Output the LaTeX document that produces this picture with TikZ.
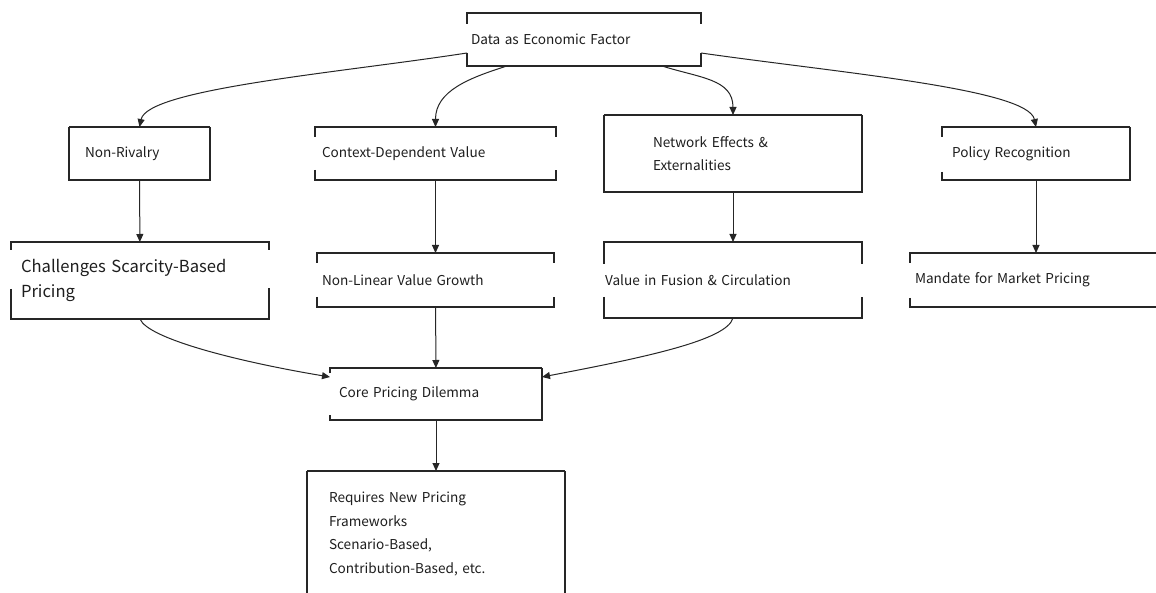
\documentclass[tikz,border=0pt]{standalone}
\usepackage{fontspec}
\setmainfont{Noto Sans CJK SC}
\usetikzlibrary{arrows.meta,calc}
\definecolor{ink}{HTML}{262626}
\definecolor{txt}{HTML}{1E1E1E}
\newcommand\gapbox[5]{%
  \draw[boxline] ($(#1.north west)+(0,-#2)$) -- (#1.north west) -- (#1.north east) -- ($(#1.north east)+(0,-#4)$);
  \draw[boxline] ($(#1.north west)+(0,-#3)$) -- (#1.south west) -- (#1.south east) -- ($(#1.north east)+(0,-#5)$);
}
\begin{document}
\begin{tikzpicture}[x=1pt,y=1pt,
  box/.style={rectangle, draw=none, outer sep=0pt, inner ysep=0pt, align=left, text=txt,
    font=\fontsize{13.6}{23.5}\selectfont},
  boxline/.style={draw=ink, line width=2pt, line join=miter},
  conn/.style={draw=ink, line width=1pt, -{Triangle[length=8pt,width=7pt]}}]
\useasboundingbox (0,0) rectangle (1156,-593);
\clip (0,0) rectangle (1156,-593);
\fill[white] (0,0) rectangle (1156,-593);

\node[box, minimum width=234pt, minimum height=53pt, inner xsep=4pt, text width=226pt] (data) at (584,-39.5) {Data as Economic Factor};

\node[box, minimum width=141pt, minimum height=53pt, inner xsep=16pt, text width=109pt] (nr) at (139.5,-153.5) {Non-Rivalry};
\node[box, minimum width=241pt, minimum height=53pt, inner xsep=7pt, text width=227pt] (ctx) at (435.5,-153.5) {Context-Dependent Value};
\node[box, minimum width=258pt, minimum height=77pt, inner xsep=49pt, text width=160pt] (net) at (733,-153.5) {Network Effects \&\\Externalities};
\node[box, minimum width=188pt, minimum height=53pt, inner xsep=10pt, text width=168pt] (pol) at (1036,-153.5) {Policy Recognition};

\node[box, minimum width=258pt, minimum height=77pt, inner xsep=10pt, text width=238pt,
  font=\fontsize{16.6}{25}\selectfont] (chal) at (140,-280.5) {Challenges Scarcity-Based\\Pricing};
\node[box, minimum width=237pt, minimum height=54pt, inner xsep=5pt, text width=227pt] (nl) at (435.5,-280) {Non-Linear Value Growth};
\node[box, minimum width=258pt, minimum height=76pt, inner xsep=1pt, text width=256pt] (val) at (733,-280) {Value in Fusion \& Circulation};
\node[box, minimum width=252pt, minimum height=54pt, inner xsep=5pt, text width=242pt] (man) at (1036,-280) {Mandate for Market Pricing};

\node[box, minimum width=212pt, minimum height=52pt, inner xsep=9pt, text width=194pt] (core) at (436,-394) {Core Pricing Dilemma};
\node[box, minimum width=258pt, minimum height=126pt, inner xsep=22pt, text width=214pt] (req) at (436,-534) {Requires New Pricing\\Frameworks\\Scenario-Based,\\Contribution-Based, etc.};

\gapbox{data}{11}{40}{11}{40}
\gapbox{nr}{0}{0}{0}{0}
\gapbox{ctx}{10}{43}{10}{43}
\gapbox{net}{0}{0}{0}{0}
\gapbox{pol}{10}{45}{0}{0}
\gapbox{chal}{8}{47}{8}{46}
\gapbox{nl}{10}{44}{10}{44}
\gapbox{val}{22}{55}{22}{55}
\gapbox{man}{10}{45}{0}{0}
\gapbox{core}{5}{47}{0}{0}
\gapbox{req}{0}{0}{0}{0}

\coordinate (dl) at ($(data.south west)+(0,13)$);
\coordinate (dr) at ($(data.south east)+(0,13)$);
\coordinate (dbl) at ($(data.south west)+(40,0)$);
\coordinate (dbr) at ($(data.south east)+(-39,0)$);
\coordinate (cl) at ($(core.north west)+(0,-9)$);
\coordinate (cr) at ($(core.north east)+(0,-9)$);

\draw[conn] (dl) .. controls ($(dl)+(-130,-20)$) and ($(nr.north)+(8,38)$) .. (nr.north);
\draw[conn] (dbl) .. controls ($(dbl)+(-38,-12)$) and ($(ctx.north)+(0,36)$) .. (ctx.north);
\draw[conn] (dbr) .. controls ($(dbr)+(38,-12)$) and ($(net.north)+(0,36)$) .. (net.north);
\draw[conn] (dr) .. controls ($(dr)+(140,-20)$) and ($(pol.north)+(-8,38)$) .. (pol.north);
\draw[conn] (nr) -- (chal);
\draw[conn] (ctx) -- (nl);
\draw[conn] (net) -- (val);
\draw[conn] (pol) -- (man);
\draw[conn] (chal.south) .. controls ($(chal.south)+(8,-20)$) and ($(cl)+(-90,15)$) .. (cl);
\draw[conn] (nl) -- (core);
\draw[conn] (val.south) .. controls ($(val.south)+(-6,-22)$) and ($(cr)+(105,20)$) .. (cr);
\draw[conn] (core) -- (req);
\end{tikzpicture}
\end{document}
